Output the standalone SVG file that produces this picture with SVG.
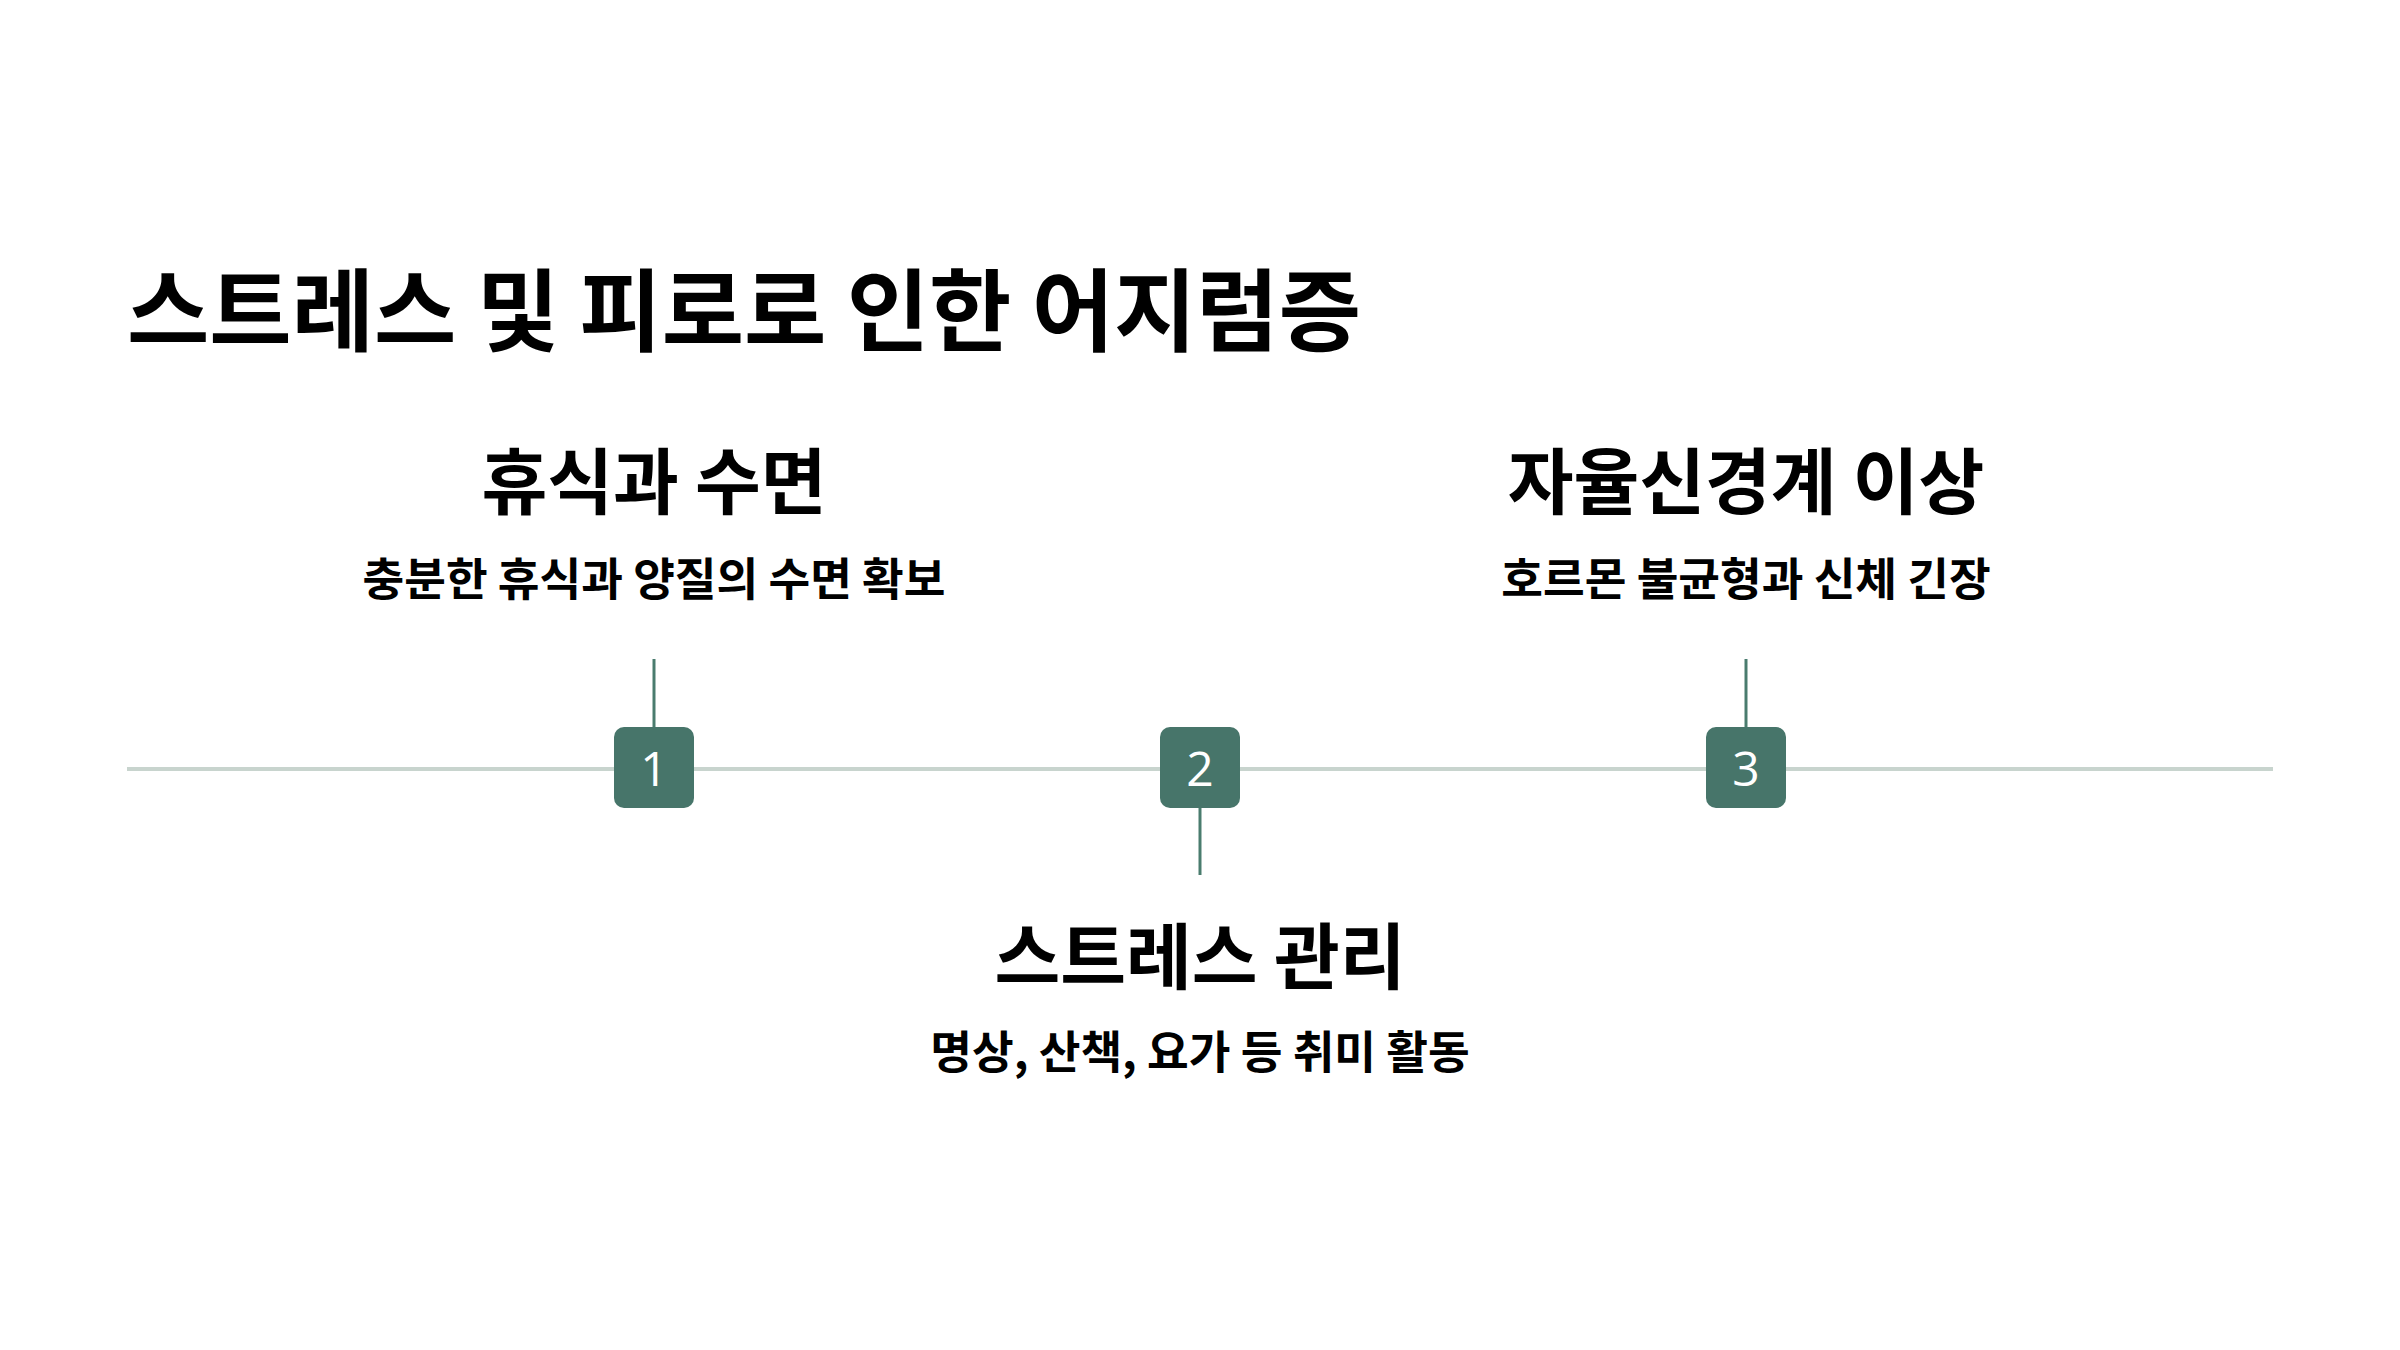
<svg xmlns="http://www.w3.org/2000/svg" width="2400" height="1350" viewBox="0 0 2400 1350">
<style>
text{font-family:"Noto Sans CJK KR","Noto Sans",sans-serif;fill:#000}
.title{font-size:89.5px;font-weight:700}
.head{font-size:71.5px;font-weight:700;text-anchor:middle}
.sub{font-size:45.3px;font-weight:700;text-anchor:middle}
.num{font-family:"Open Sans","Noto Sans",sans-serif;font-size:48px;fill:#fff;text-anchor:middle;font-weight:400}
.box{fill:#47756a}
.tick{stroke:#4a7c6e;stroke-width:3}
.axis{stroke:#c8d4ce;stroke-width:4}
</style>
<rect width="2400" height="1350" fill="#fff"/>
<text class="title" x="127" y="344">스트레스 및 피로로 인한 어지럼증</text>
<g id="connectors">
<line class="axis" x1="127" y1="769" x2="2273" y2="769"/>
<line class="tick" x1="654" y1="659" x2="654" y2="727"/>
<line class="tick" x1="1200" y1="808" x2="1200" y2="875"/>
<line class="tick" x1="1746" y1="659" x2="1746" y2="727"/>
</g>
<g id="step1">
<rect class="box" x="614" y="727" width="80" height="81" rx="10"/>
<text class="num" x="654" y="786">1</text>
<text class="head" x="654" y="508">휴식과 수면</text>
<text class="sub" x="654" y="596">충분한 휴식과 양질의 수면 확보</text>
</g>
<g id="step2">
<rect class="box" x="1160" y="727" width="80" height="81" rx="10"/>
<text class="num" x="1200" y="786">2</text>
<text class="head" x="1200" y="983">스트레스 관리</text>
<text class="sub" x="1200" y="1069">명상, 산책, 요가 등 취미 활동</text>
</g>
<g id="step3">
<rect class="box" x="1706" y="727" width="80" height="81" rx="10"/>
<text class="num" x="1746" y="786">3</text>
<text class="head" x="1746" y="508">자율신경계 이상</text>
<text class="sub" x="1746" y="596">호르몬 불균형과 신체 긴장</text>
</g>
</svg>
